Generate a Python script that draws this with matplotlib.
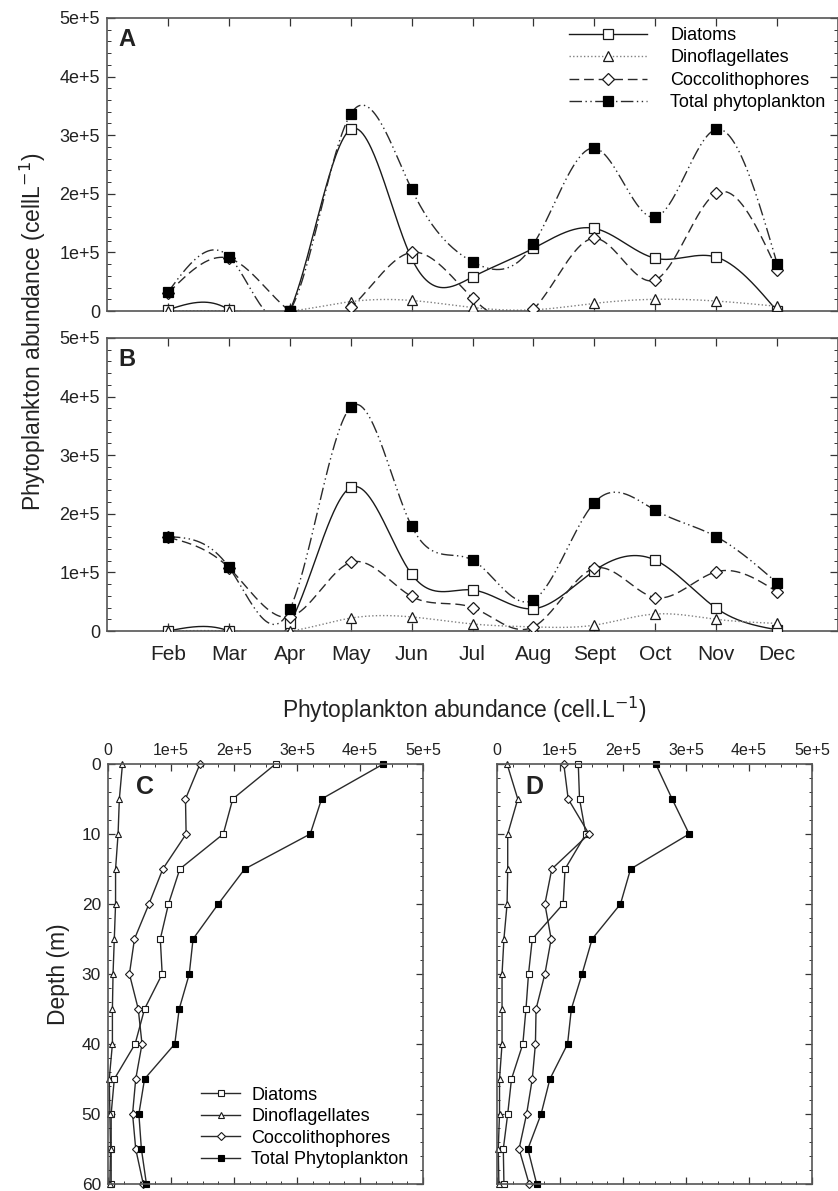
import numpy as np
import matplotlib
matplotlib.use("Agg")
import matplotlib.pyplot as plt
from matplotlib.lines import Line2D
from matplotlib.ticker import MultipleLocator, FuncFormatter

plt.rcParams['font.family'] = ['Liberation Sans', 'DejaVu Sans']

# ---------------- data ----------------
months = ["Feb", "Mar", "Apr", "May", "Jun", "Jul", "Aug", "Sept", "Oct", "Nov", "Dec"]

# Panel A (surface, monthly)
a_diatoms = [2e3, 2e3, 0, 3.10e5, 0.90e5, 0.58e5, 1.07e5, 1.41e5, 0.90e5, 0.92e5, 0.0]
a_dino = [0, 0, 0, 0.16e5, 0.18e5, 0.06e5, 0.02e5, 0.13e5, 0.20e5, 0.17e5, 0.08e5]
a_cocco = [0.30e5, 0.90e5, 0, 0.06e5, 1.00e5, 0.22e5, 0.03e5, 1.24e5, 0.53e5, 2.01e5, 0.70e5]
a_total = [0.32e5, 0.93e5, 0, 3.36e5, 2.08e5, 0.84e5, 1.14e5, 2.78e5, 1.60e5, 3.10e5, 0.81e5]

# Panel B
b_diatoms = [0, 0, 0.13e5, 2.45e5, 0.97e5, 0.70e5, 0.38e5, 1.03e5, 1.21e5, 0.39e5, 0.02e5]
b_dino = [0, 0, 0, 0.22e5, 0.24e5, 0.12e5, 0.07e5, 0.10e5, 0.29e5, 0.20e5, 0.13e5]
b_cocco = [1.60e5, 1.08e5, 0.24e5, 1.17e5, 0.59e5, 0.40e5, 0.07e5, 1.07e5, 0.57e5, 1.01e5, 0.67e5]
b_total = [1.61e5, 1.09e5, 0.37e5, 3.82e5, 1.79e5, 1.21e5, 0.53e5, 2.19e5, 2.06e5, 1.61e5, 0.82e5]

# Depth profiles
depths = [0, 5, 10, 15, 20, 25, 30, 35, 40, 45, 50, 55, 60]
c_diatoms = [2.66e5, 1.98e5, 1.83e5, 1.14e5, 0.96e5, 0.83e5, 0.86e5, 0.58e5, 0.43e5, 0.10e5, 0.05e5, 0.05e5, 0.05e5]
c_dino = [0.23e5, 0.18e5, 0.16e5, 0.12e5, 0.12e5, 0.10e5, 0.08e5, 0.07e5, 0.07e5, 0.02e5, 0.03e5, 0.04e5, 0.03e5]
c_cocco = [1.46e5, 1.23e5, 1.24e5, 0.87e5, 0.65e5, 0.42e5, 0.34e5, 0.48e5, 0.54e5, 0.44e5, 0.39e5, 0.44e5, 0.56e5]
c_total = [4.37e5, 3.39e5, 3.21e5, 2.17e5, 1.75e5, 1.35e5, 1.29e5, 1.13e5, 1.06e5, 0.58e5, 0.49e5, 0.53e5, 0.61e5]

d_diatoms = [1.29e5, 1.31e5, 1.41e5, 1.08e5, 1.05e5, 0.56e5, 0.50e5, 0.46e5, 0.41e5, 0.23e5, 0.17e5, 0.10e5, 0.11e5]
d_dino = [0.16e5, 0.33e5, 0.17e5, 0.17e5, 0.16e5, 0.11e5, 0.08e5, 0.08e5, 0.08e5, 0.04e5, 0.04e5, 0.02e5, 0.03e5]
d_cocco = [1.06e5, 1.13e5, 1.46e5, 0.87e5, 0.76e5, 0.86e5, 0.76e5, 0.62e5, 0.61e5, 0.56e5, 0.47e5, 0.35e5, 0.51e5]
d_total = [2.52e5, 2.78e5, 3.05e5, 2.12e5, 1.96e5, 1.51e5, 1.35e5, 1.18e5, 1.12e5, 0.84e5, 0.70e5, 0.49e5, 0.63e5]

labels_top = ["Diatoms", "Dinoflagellates", "Coccolithophores", "Total phytoplankton"]
labels_bot = ["Diatoms", "Dinoflagellates", "Coccolithophores", "Total Phytoplankton"]


def natural_spline(x, y, xs):
    x = np.asarray(x, float)
    y = np.asarray(y, float)
    n = len(x)
    h = np.diff(x)
    A = np.zeros((n, n))
    r = np.zeros(n)
    A[0, 0] = 1
    A[-1, -1] = 1
    for i in range(1, n - 1):
        A[i, i - 1] = h[i - 1]
        A[i, i] = 2 * (h[i - 1] + h[i])
        A[i, i + 1] = h[i]
        r[i] = 6 * ((y[i + 1] - y[i]) / h[i] - (y[i] - y[i - 1]) / h[i - 1])
    M = np.linalg.solve(A, r)
    idx = np.clip(np.searchsorted(x, xs) - 1, 0, n - 2)
    x0, x1 = x[idx], x[idx + 1]
    hh = x1 - x0
    t0 = x1 - xs
    t1 = xs - x0
    return (M[idx] * t0 ** 3 / (6 * hh) + M[idx + 1] * t1 ** 3 / (6 * hh)
            + (y[idx] / hh - M[idx] * hh / 6) * t0
            + (y[idx + 1] / hh - M[idx + 1] * hh / 6) * t1)


styles = [
    dict(color='#1a1a1a', ls='-', lw=1.0, marker='s', mfc='white', mec='#1a1a1a'),
    dict(color='#808080', ls=(0, (1, 1.6)), lw=1.0, marker='^', mfc='white', mec='#1a1a1a'),
    dict(color='#2a2a2a', ls=(0, (7, 3.5)), lw=1.0, marker='D', mfc='white', mec='#1a1a1a'),
    dict(color='#2a2a2a', ls=(0, (9, 2.5, 1, 2.5, 1, 2.5)), lw=1.0, marker='s', mfc='black', mec='black'),
]
msizes = [6.5, 7, 6, 6.5]

W, H = 838, 1191
fig = plt.figure(figsize=(W / 100, H / 100), dpi=100)


def fr(x0, y0, x1, y1):
    return [x0 / W, 1 - y1 / H, (x1 - x0) / W, (y1 - y0) / H]


fmt = FuncFormatter(lambda v, p: "0" if v == 0 else "%de+5" % round(v / 1e5))

xm = np.arange(1, len(months) + 1)
xs = np.linspace(1, len(months), 600)


def monthly(ax, series, letter, show_x, legend):
    for s, st in zip(series, styles):
        ys = natural_spline(xm, s, xs)
        ax.plot(xs, ys, color=st['color'], ls=st['ls'], lw=st['lw'], zorder=2)
    for s, st, ms in zip(series, styles, msizes):
        ax.plot(xm, s, ls='none', marker=st['marker'], ms=ms,
                mfc=st['mfc'], mec=st['mec'], mew=0.9, zorder=3)
    ax.set_xlim(0, 12)
    ax.set_ylim(0, 5e5)
    ax.set_xticks(xm)
    ax.set_xticklabels(months if show_x else [])
    ax.yaxis.set_major_locator(MultipleLocator(1e5))
    ax.yaxis.set_minor_locator(MultipleLocator(2e4))
    ax.yaxis.set_major_formatter(fmt)
    ax.tick_params(axis='both', which='both', direction='in', top=True, right=True,
                   colors='#333333', labelcolor='#222222')
    ax.tick_params(axis='both', which='major', length=6, width=0.9)
    ax.tick_params(axis='both', which='minor', length=3, width=0.7)
    ax.tick_params(axis='y', labelsize=13, pad=5)
    ax.tick_params(axis='x', labelsize=15, pad=10)
    for sp in ax.spines.values():
        sp.set_color('#555555')
        sp.set_linewidth(1.2)
    ax.text(0.015, 0.965, letter, transform=ax.transAxes, fontsize=17, fontweight='bold',
            va='top', ha='left', color='#222222')
    if legend:
        handles = [Line2D([], [], color=st['color'], ls=st['ls'], lw=1.0, marker=st['marker'],
                          ms=(6 if st['marker'] == 'D' else 6.5), mfc=st['mfc'], mec=st['mec'], mew=0.9)
                   for st in styles]
        ax.legend(handles, labels_top, loc='upper right', frameon=False, fontsize=13,
                  handlelength=4.3, labelspacing=0.3, handletextpad=1.3,
                  borderaxespad=0.1, bbox_to_anchor=(0.995, 1.0))


axA = fig.add_axes(fr(107, 18, 838, 311))
monthly(axA, [a_diatoms, a_dino, a_cocco, a_total], "A", False, True)
axB = fig.add_axes(fr(107, 338, 838, 631))
monthly(axB, [b_diatoms, b_dino, b_cocco, b_total], "B", True, False)

fig.text(33 / W, 1 - 332 / H, "Phytoplankton abundance (cellL$^{-1}$)", rotation=90,
         ha='center', va='center', fontsize=16.5, color='#222222')

# Depth profiles
msz2 = [4.5, 5, 4.2, 4.5]


def profile(ax, series, letter, show_y, legend):
    for s, st, ms in zip(series, styles, msz2):
        ax.plot(s, depths, color='#2a2a2a', ls='-', lw=1.0, marker=st['marker'], ms=ms,
                mfc=st['mfc'], mec=st['mec'], mew=0.8, clip_on=False)
    ax.set_xlim(0, 5e5)
    ax.set_ylim(60, 0)
    ax.xaxis.set_major_locator(MultipleLocator(1e5))
    ax.xaxis.set_minor_locator(MultipleLocator(2.5e4))
    ax.yaxis.set_major_locator(MultipleLocator(10))
    ax.yaxis.set_minor_locator(MultipleLocator(2))
    ax.xaxis.set_major_formatter(fmt)
    ax.xaxis.tick_top()
    ax.tick_params(axis='both', which='both', direction='in', top=True, bottom=True,
                   left=True, right=True, colors='#333333', labelcolor='#222222')
    ax.tick_params(axis='both', which='major', length=5, width=0.9)
    ax.tick_params(axis='both', which='minor', length=2.5, width=0.7)
    ax.tick_params(axis='x', labelsize=11.5, pad=4, labeltop=True, labelbottom=False)
    ax.tick_params(axis='y', labelsize=12.5, pad=5, labelleft=show_y)
    for sp in ax.spines.values():
        sp.set_color('#555555')
        sp.set_linewidth(1.2)
    ax.text(0.09, 0.975, letter, transform=ax.transAxes, fontsize=18, fontweight='bold',
            va='top', ha='left', color='#222222')
    if legend:
        handles = [Line2D([], [], color='#2a2a2a', ls='-', lw=1.0, marker=st['marker'], ms=ms,
                          mfc=st['mfc'], mec=st['mec'], mew=0.8)
                   for st, ms in zip(styles, msz2)]
        ax.legend(handles, labels_bot, loc='lower left', frameon=False, fontsize=13,
                  handlelength=2.2, labelspacing=0.25, handletextpad=0.6,
                  borderaxespad=0.2, bbox_to_anchor=(0.26, 0.012))


axC = fig.add_axes(fr(108, 764, 423, 1184))
profile(axC, [c_diatoms, c_dino, c_cocco, c_total], "C", True, True)
axD = fig.add_axes(fr(497, 764, 812, 1184))
profile(axD, [d_diatoms, d_dino, d_cocco, d_total], "D", False, False)

fig.text(464 / W, 1 - 710 / H, "Phytoplankton abundance (cell.L$^{-1}$)",
         ha='center', va='center', fontsize=16.5, color='#222222')
fig.text(58 / W, 1 - 974 / H, "Depth (m)", rotation=90, ha='center', va='center',
         fontsize=16.5, color='#222222')

fig.savefig("out.png", dpi=100)
